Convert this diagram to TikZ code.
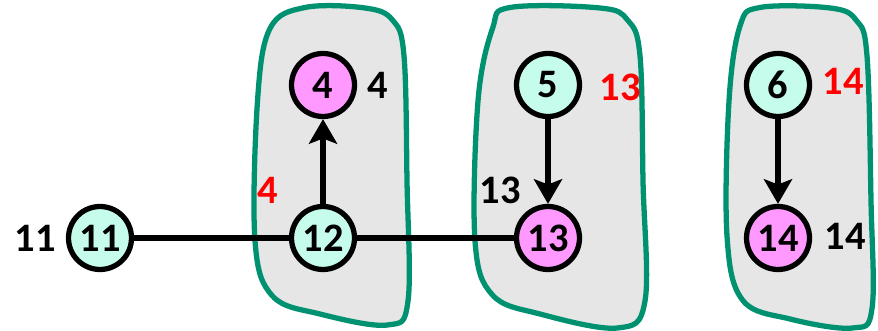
\documentclass[tikz,border=0pt]{standalone}
\usepackage{fontspec}
\setmainfont{Carlito}
\usepackage{tikz}
\usetikzlibrary{arrows.meta}
\usetikzlibrary{positioning}
\definecolor{blobgreen}{RGB}{0,146,112}
\definecolor{blobgray}{RGB}{230,230,230}
\definecolor{vcyan}{RGB}{198,252,235}
\definecolor{vpink}{RGB}{255,153,255}
\tikzset{>={Stealth[inset=3pt,length=14pt,width=16pt]}}
\tikzset{
  blob/.style={draw=blobgreen,fill=blobgray,line width=3pt},
  vert/.style={circle,draw,line width=3pt,minimum size=1.26cm,inner sep=0pt,font=\fontsize{23}{25}\selectfont\bfseries},
  cyanvert/.style={vert,fill=vcyan},
  pinkvert/.style={vert,fill=vpink},
  tag/.style={font=\fontsize{23}{25}\selectfont\bfseries},
  redtag/.style={tag,text=red},
  link/.style={line width=3.2pt}
}

\begin{document}
\begin{tikzpicture}
\useasboundingbox (0,0) rectangle (17.56,6.62);

% Regions
\draw[blob] plot[smooth cycle,tension=0.6] coordinates {(6.1,6.47) (7.3,6.46) (7.85,6.22) (8.08,5.5) (8.14,3.0) (8.16,0.6) (7.75,0.12) (6.4,0.34) (5.45,0.7) (5.1,1.8) (5.15,4.6) (5.4,6.05)};
\draw[blob] plot[smooth cycle,tension=0.6] coordinates {(10.2,6.47) (12.0,6.46) (12.55,6.22) (12.8,5.5) (12.86,3.0) (12.9,0.6) (12.35,0.06) (10.8,0.34) (9.85,0.72) (9.5,1.8) (9.56,4.6) (9.85,6.05)};
\draw[blob] plot[smooth cycle,tension=0.6] coordinates {(15.2,6.47) (16.6,6.46) (17.12,6.22) (17.34,5.5) (17.42,2.6) (17.44,0.45) (17.05,0.06) (15.8,0.24) (14.85,0.62) (14.54,1.9) (14.58,4.6) (14.8,6.1)};

% Vertices
\node[cyanvert] (v11) at (2.0,1.86) {11};
\node[cyanvert] (v12) at (6.46,1.86) {12};
\node[pinkvert] (v4) at (6.46,4.92) {4};
\node[pinkvert] (v13) at (10.96,1.86) {13};
\node[cyanvert] (v5) at (10.96,4.92) {5};
\node[cyanvert] (v6) at (15.56,4.92) {6};
\node[pinkvert] (v14) at (15.56,1.86) {14};

% Edges
\draw[link] (v11)--(v12);
\draw[link] (v12)--(v13);
\draw[link,->] (v12)--(v4);
\draw[link,->] (v5)--(v13);
\draw[link,->] (v6)--(v14);

% Labels
\node[tag] (t11) at (0.7,1.86) {11};
\node[tag] (t4) at (7.56,4.92) {4};
\node[redtag] (r4) at (5.36,2.82) {4};
\node[redtag] (r13) at (12.4,4.88) {13};
\node[tag] (t13) at (10.0,2.82) {13};
\node[redtag] (r14) at (16.86,5.0) {14};
\node[tag] (t14) at (16.9,1.9) {14};

\end{tikzpicture}
\end{document}
